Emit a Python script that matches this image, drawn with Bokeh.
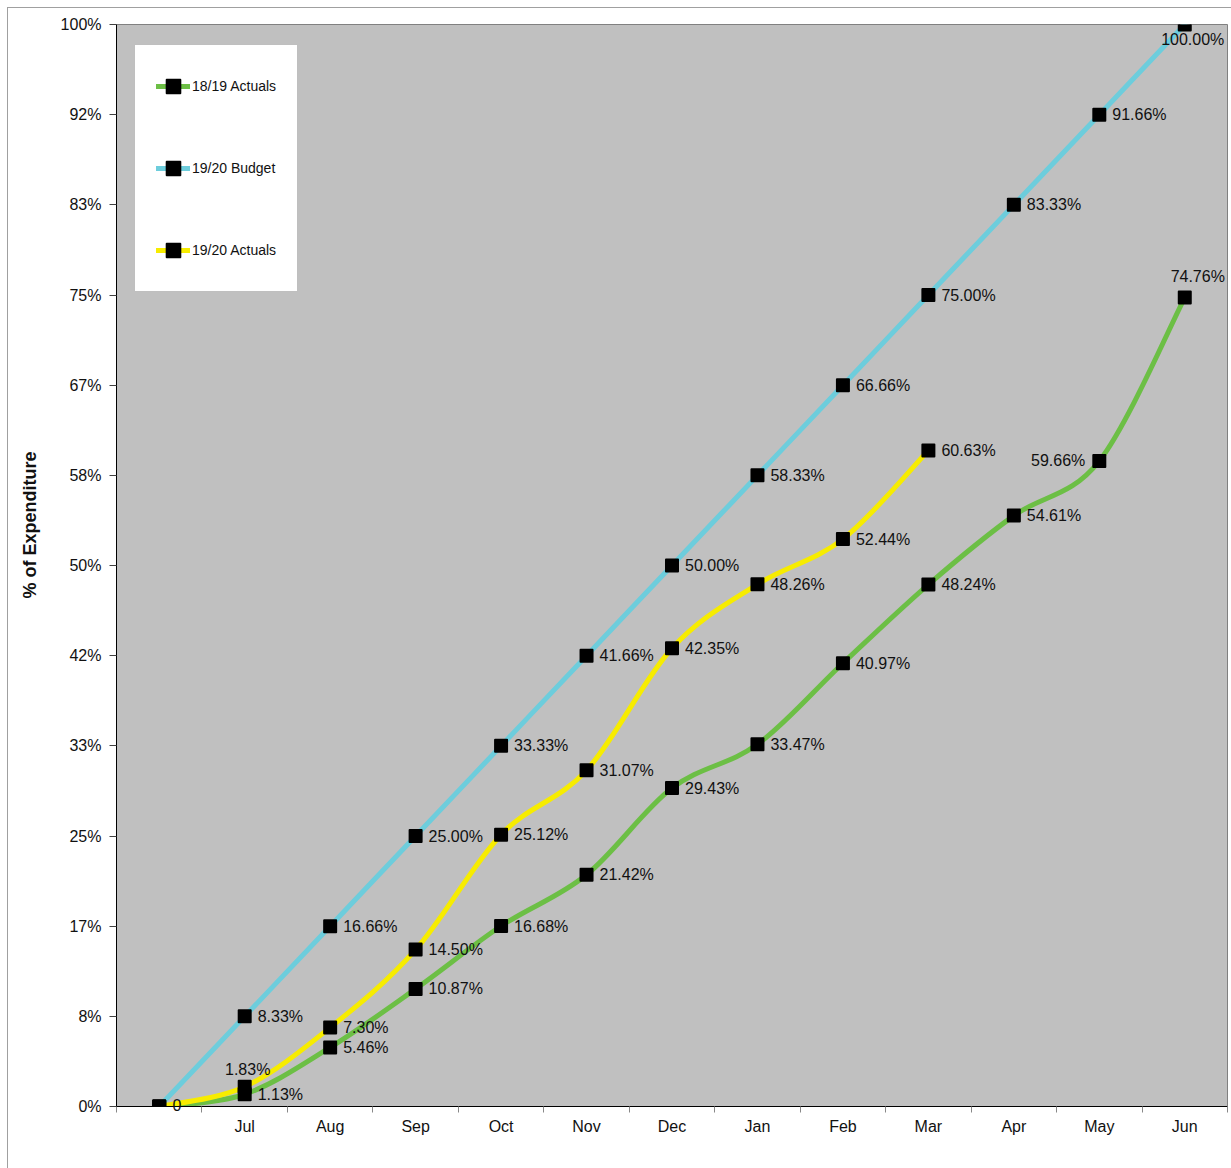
import numpy as np
from bokeh.plotting import figure
from bokeh.models import (ColumnDataSource, FixedTicker, Range1d, Legend, LegendItem,
                          LabelSet, Label, Title)
from bokeh.core.properties import value
from bokeh.embed import file_html
from bokeh.resources import INLINE

# ---- data ----
months = ["", "Jul", "Aug", "Sep", "Oct", "Nov", "Dec", "Jan", "Feb", "Mar", "Apr", "May", "Jun"]
actuals_1819 = [0, 1.13, 5.46, 10.87, 16.68, 21.42, 29.43, 33.47, 40.97, 48.24, 54.61, 59.66, 74.76]
budget_1920 = [0, 8.33, 16.66, 25.00, 33.33, 41.66, 50.00, 58.33, 66.66, 75.00, 83.33, 91.66, 100.00]
actuals_1920 = [0, 1.83, 7.30, 14.50, 25.12, 31.07, 42.35, 48.26, 52.44, 60.63]
y_tick_labels = ["0%", "8%", "17%", "25%", "33%", "42%", "50%", "58%", "67%", "75%", "83%", "92%", "100%"]
series_names = ["18/19 Actuals", "19/20 Budget", "19/20 Actuals"]
y_title = "% of Expenditure"

GREEN = "#6cbf45"
BLUE = "#6dcddc"
YELLOW = "#f7ec00"
FONT = "Liberation Sans"

p = figure(width=1231, height=1168, output_backend="svg", toolbar_location=None,
           x_range=Range1d(-0.5, 12.5), y_range=Range1d(0, 100),
           min_border_left=116, min_border_right=4, min_border_top=24, min_border_bottom=62)
p.background_fill_color = "#c0c0c0"
p.border_fill_alpha = 0
p.outline_line_color = "#808080"
p.outline_line_width = 1
p.grid.visible = False
# outer chart border (left and top edges) painted behind the transparent canvas border
p.styles = {"background": "linear-gradient(#a0a0a0,#a0a0a0) 7px 7px / 1px 100% no-repeat, "
                          "linear-gradient(#a0a0a0,#a0a0a0) 7px 7px / 100% 1px no-repeat, white"}

# axes
p.xaxis.ticker = FixedTicker(ticks=list(range(len(months))),
                             minor_ticks=[i - 0.5 for i in range(len(months) + 1)])
p.xaxis.major_label_overrides = {i: m for i, m in enumerate(months)}
p.xaxis.major_tick_line_color = None
p.xaxis.major_tick_out = 0
p.xaxis.major_tick_in = 0
p.xaxis.minor_tick_line_color = "#888888"
p.xaxis.minor_tick_out = 6
p.xaxis.minor_tick_in = 0
p.xaxis.major_label_standoff = 5
p.xaxis.axis_line_color = "black"

yticks = [100.0 * k / 12 for k in range(len(y_tick_labels))]
p.yaxis.ticker = FixedTicker(ticks=yticks, minor_ticks=[])
p.yaxis.major_label_overrides = {t: l for t, l in zip(yticks, y_tick_labels)}
p.yaxis.major_tick_out = 7
p.yaxis.major_tick_in = 0
p.yaxis.major_tick_line_color = "#404040"
p.yaxis.major_label_standoff = 8
p.yaxis.axis_line_color = "black"
for ax in (p.xaxis, p.yaxis):
    ax.major_label_text_font = FONT
    ax.major_label_text_font_size = "16px"
    ax.major_label_text_color = "#111111"

p.add_layout(Title(text=y_title, align="left", offset=508, standoff=35,
                   text_font=FONT, text_font_style="bold", text_font_size="18px",
                   text_color="#111111"), "left")


def bezier_source(ys):
    xs = np.arange(len(ys), dtype=float)
    ys = np.asarray(ys, dtype=float)
    n = len(ys)
    xp = np.concatenate([[xs[0]], xs, [xs[-1]]])
    yp = np.concatenate([[ys[0]], ys, [ys[-1]]])
    i = np.arange(n - 1)
    return ColumnDataSource(dict(
        x0=xs[:-1], y0=ys[:-1], x1=xs[1:], y1=ys[1:],
        cx0=xs[:-1] + (xp[i + 2] - xp[i]) / 6, cy0=ys[:-1] + (yp[i + 2] - yp[i]) / 6,
        cx1=xs[1:] - (xp[i + 3] - xp[i + 1]) / 6, cy1=ys[1:] - (yp[i + 3] - yp[i + 1]) / 6,
    ))


all_series = [actuals_1819, budget_1920, actuals_1920]
colors = [GREEN, BLUE, YELLOW]

for ys, c in zip(all_series, colors):
    p.bezier(x0="x0", y0="y0", x1="x1", y1="y1", cx0="cx0", cy0="cy0", cx1="cx1", cy1="cy1",
             source=bezier_source(ys), line_color=c, line_width=5, line_cap="round")

legend_items = []
for ys, c, name in zip(all_series, colors, series_names):
    # off-range stub used only for the legend swatch
    stub = p.line([-5, -4], [-5, -4], line_color=c, line_width=5, line_cap="round")
    mk = p.scatter(list(range(len(ys))), ys, marker="square", size=12, fill_color="black",
                   line_color="black", line_width=2, line_join="round")
    legend_items.append(LegendItem(label=name, renderers=[stub, mk]))

# data labels
lx, ly, lt, xo, yo, al = [], [], [], [], [], []


def add_label(i, v, text, pos):
    lx.append(i); ly.append(v); lt.append(text)
    if pos == "right":
        xo.append(13); yo.append(0); al.append("left")
    elif pos == "left":
        xo.append(-14); yo.append(0); al.append("right")
    elif pos == "above":
        xo.append(3); yo.append(17); al.append("center")
    elif pos == "above_r":
        xo.append(13); yo.append(21); al.append("center")
    elif pos == "below":
        xo.append(8); yo.append(-15); al.append("center")


for i, v in enumerate(actuals_1819):
    if i == 0:
        continue
    pos = "right"
    if i == 11:
        pos = "left"
    if i == 12:
        pos = "above_r"
    add_label(i, v, "%.2f%%" % v, pos)
for i, v in enumerate(budget_1920):
    if i == 0:
        continue
    add_label(i, v, "%.2f%%" % v, "below" if i == 12 else "right")
for i, v in enumerate(actuals_1920):
    if i == 0:
        continue
    add_label(i, v, "%.2f%%" % v, "above" if i == 1 else "right")

lsrc = ColumnDataSource(dict(x=lx, y=ly, text=lt, xo=xo, yo=yo, al=al))
p.add_layout(LabelSet(x="x", y="y", text="text", x_offset="xo", y_offset="yo", text_align="al",
                      text_baseline="middle", source=lsrc, text_font_size="16px",
                      text_color="#111111", text_font=value(FONT)))
# starting-point label, placed in the bottom side panel so it is not clipped by the frame
p.add_layout(Label(x=56, y=45, x_units="screen", y_units="screen", text="%g" % budget_1920[0],
                   text_baseline="middle", text_align="left", text_font_size="16px",
                   text_color="#111111", text_font=FONT), "below")

legend = Legend(items=legend_items, location=(18, 814), orientation="vertical",
                glyph_width=34, glyph_height=40, label_height=40, spacing=42, padding=21,
                label_standoff=2, margin=0,
                label_text_font=FONT, label_text_font_size="14px", label_text_color="#111111",
                border_line_color="#808080", border_line_width=1,
                background_fill_color="white", background_fill_alpha=1)
p.add_layout(legend)

open("out.html", "w").write(file_html(p, INLINE))
